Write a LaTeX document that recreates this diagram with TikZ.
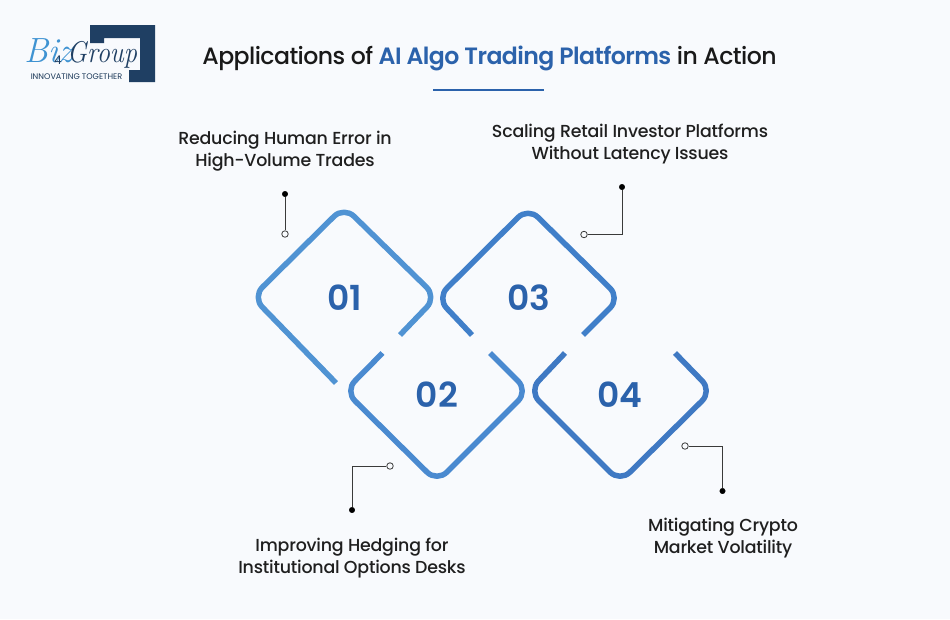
\documentclass[tikz,border=0pt]{standalone}
\usepackage{fontspec}
\setmainfont{Poppins}
\newfontfamily\popmed[LetterSpace=-1.2]{Poppins Medium}
\newfontfamily\poptitle[LetterSpace=-2.4]{Poppins Medium}
\newfontfamily\popsemi[LetterSpace=-2.4]{Poppins SemiBold}
\newfontfamily\popnum{Poppins SemiBold}
\usepackage{tikz}
\usetikzlibrary{arrows,positioning}
\definecolor{bgpage}{HTML}{F8FAFD}
\definecolor{titleblue}{HTML}{2B62AB}
\definecolor{navy}{HTML}{1F3F63}
\definecolor{bizblue}{HTML}{3F93D2}
\definecolor{wireone}{HTML}{5093D3}
\definecolor{wiretwo}{HTML}{4A8AD0}
\definecolor{wirethree}{HTML}{407FC9}
\definecolor{wirefour}{HTML}{3F79C3}
\definecolor{leader}{HTML}{3A3A3A}

\begin{document}
\begin{tikzpicture}[x=1pt,y=-1pt,
  wire/.style={line width=5.5pt,rounded corners=14pt,line join=round},
  num/.style={font=\popnum\fontsize{34.5}{35}\selectfont,text=titleblue,inner sep=0pt},
  lbl/.style={font=\popmed\fontsize{17.4}{22}\selectfont,text=black!88,align=center,inner sep=0pt},
  dotfull/.style={circle,fill=black,draw=black,minimum size=5.5pt,inner sep=0pt},
  dotopen/.style={circle,fill=bgpage,draw=leader,line width=0.8pt,minimum size=6.5pt,inner sep=0pt},
  leaderline/.style={draw=leader,line width=1pt}]
\fill[bgpage] (0,0) rectangle (950,619);
\useasboundingbox (0,0) rectangle (950,619);

% logo
\fill[navy] (90,25)--(155,25)--(155,82)--(129,82)--(129,70)--(140,70)--(140,38)--(104,38)--(104,43)--(90,43)--cycle;
\node[anchor=base west,inner sep=0pt] (biz) at (24,62) {\fontspec{Latin Modern Roman}\itshape\fontsize{35}{35}\selectfont\textcolor{bizblue}{Biz}};
\node[anchor=base west,inner sep=0pt,xscale=0.88] (group) at (67,62) {\fontspec{Latin Modern Roman}\itshape\fontsize{30}{30}\selectfont\textcolor{navy}{Group}};
\node[inner sep=0pt,font=\fontsize{12}{12}\selectfont,text=navy] (four) at (58,60) {4};
\node[inner sep=0pt,font=\fontsize{8.1}{9}\selectfont,text=navy!90!black] (slogan) at (76.5,76.7) {INNOVATING TOGETHER};

% title
\node[inner sep=0pt,font=\poptitle\fontsize{23.6}{28}\selectfont,text=black!90] (title) at (489.5,58.5) {Applications of \textcolor{titleblue}{\popsemi AI Algo Trading Platforms} in Action};
\coordinate (ruleleft) at (433,90);
\coordinate (ruleright) at (544,90);
\draw[titleblue,line width=1.6pt] (ruleleft)--(ruleright);

% the four open diamonds
\draw[wire,wireone] (336,383)--(252.5,297)--(344,206.5)--(436.5,297)--(400,335);
\draw[wire,wiretwo] (382.5,353)--(345,391)--(437,482)--(528,391)--(490,353);
\draw[wire,wirethree] (472,335)--(437,298)--(528,207.5)--(620,298)--(583,335);
\draw[wire,wirefour] (565,353)--(529,391)--(620,482)--(712,391)--(675,353);

\node[num] (n1) at (344.5,297.5) {01};
\node[num] (n2) at (437,394.5) {02};
\node[num] (n3) at (528.5,297.5) {03};
\node[num] (n4) at (620,394.5) {04};

% leaders
\node[dotfull] (a1) at (285,194) {};
\node[dotopen] (a2) at (285,234) {};
\draw[leaderline] (a1)--(a2);

\node[dotopen] (b1) at (390,466) {};
\coordinate (b2) at (352,466);
\node[dotfull] (b3) at (352,510) {};
\draw[leaderline] (b1)--(b2)--(b3);

\node[dotfull] (c1) at (622,187) {};
\coordinate (c2) at (622,234.5);
\node[dotopen] (c3) at (584,234.5) {};
\draw[leaderline] (c1)--(c2)--(c3);

\node[dotopen] (d1) at (685,446) {};
\coordinate (d2) at (722.5,446);
\node[dotfull] (d3) at (722.5,491) {};
\draw[leaderline] (d1)--(d2)--(d3);

% labels
\node[lbl] (t1) at (285,151.5) {Reducing Human Error in\\High-Volume Trades};
\node[lbl] (t2) at (352,558.5) {Improving Hedging for\\Institutional Options Desks};
\node[lbl] (t3) at (630,144.5) {Scaling Retail Investor Platforms\\Without Latency Issues};
\node[lbl] (t4) at (723,538.5) {Mitigating Crypto\\Market Volatility};
\end{tikzpicture}
\end{document}
